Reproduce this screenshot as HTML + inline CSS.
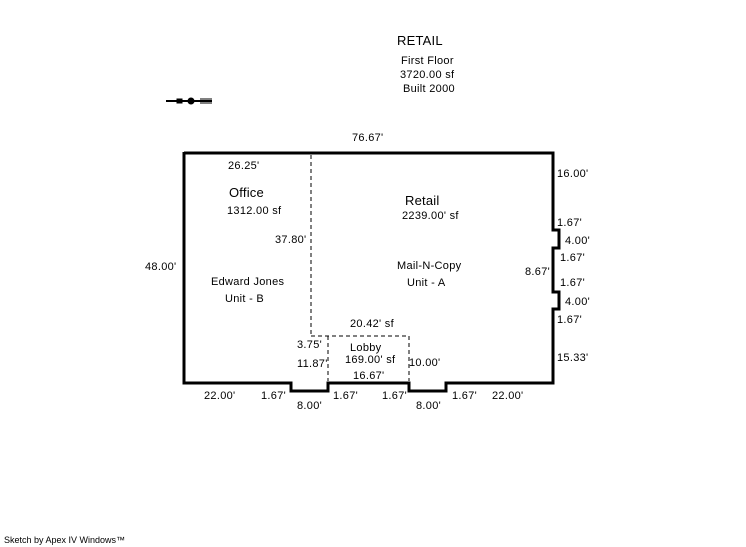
<!DOCTYPE html>
<html><head><style>
body{margin:0;width:746px;height:547px;background:#fff;position:relative;font-family:"Liberation Sans",Arial,sans-serif;overflow:hidden}
.t{position:absolute;font-size:11px;letter-spacing:0.3px;color:#000;white-space:nowrap;line-height:12px}
.b{font-size:13px;line-height:14px;letter-spacing:0.2px}
</style></head><body>
<svg width="746" height="547" style="position:absolute;left:0;top:0">
<polyline fill="none" stroke="#000" stroke-width="3" points="184,153 553,153 553,230 559,230 559,248 553,248 553,292 559,292 559,309 553,309 553,383 446,383 446,391 409,391 409,383 328,383 328,391 291,391 291,383 184,383 184,152"/>
<g stroke="#000" stroke-width="1" stroke-dasharray="4,3" fill="none">
<line x1="311" y1="155" x2="311" y2="336"/>
<line x1="311" y1="336" x2="409" y2="336"/>
<line x1="328" y1="336" x2="328" y2="381"/>
<line x1="409" y1="336" x2="409" y2="381"/>
</g>
<g stroke="#000" fill="#000">
<line x1="166" y1="101" x2="212" y2="101" stroke-width="2"/>
<circle cx="191" cy="101" r="3"/>
<rect x="177" y="99" width="5" height="4"/>
<line x1="200" y1="99" x2="212" y2="99" stroke-width="1"/>
<line x1="200" y1="103" x2="212" y2="103" stroke-width="1"/>
</g>
</svg>
<div class="t b" style="left:397px;top:34px">RETAIL</div>
<div class="t" style="left:401px;top:55px">First Floor</div>
<div class="t" style="left:400px;top:69px">3720.00 sf</div>
<div class="t" style="left:403px;top:83px">Built 2000</div>
<div class="t" style="left:352px;top:132px">76.67'</div>
<div class="t" style="left:228px;top:160px">26.25'</div>
<div class="t b" style="left:229px;top:186px">Office</div>
<div class="t" style="left:227px;top:205px">1312.00 sf</div>
<div class="t" style="left:275px;top:234px">37.80'</div>
<div class="t" style="left:145px;top:261px">48.00'</div>
<div class="t" style="left:211px;top:276px">Edward Jones</div>
<div class="t" style="left:225px;top:293px">Unit - B</div>
<div class="t b" style="left:405px;top:194px">Retail</div>
<div class="t" style="left:402px;top:210px">2239.00' sf</div>
<div class="t" style="left:397px;top:260px">Mail-N-Copy</div>
<div class="t" style="left:407px;top:277px">Unit - A</div>
<div class="t" style="left:525px;top:266px">8.67'</div>
<div class="t" style="left:557px;top:168px">16.00'</div>
<div class="t" style="left:557px;top:217px">1.67'</div>
<div class="t" style="left:565px;top:235px">4.00'</div>
<div class="t" style="left:560px;top:252px">1.67'</div>
<div class="t" style="left:560px;top:277px">1.67'</div>
<div class="t" style="left:565px;top:296px">4.00'</div>
<div class="t" style="left:557px;top:314px">1.67'</div>
<div class="t" style="left:557px;top:352px">15.33'</div>
<div class="t" style="left:350px;top:318px">20.42' sf</div>
<div class="t" style="left:297px;top:339px">3.75'</div>
<div class="t" style="left:297px;top:358px">11.87'</div>
<div class="t" style="left:350px;top:342px">Lobby</div>
<div class="t" style="left:345px;top:354px">169.00' sf</div>
<div class="t" style="left:409px;top:357px">10.00'</div>
<div class="t" style="left:353px;top:370px">16.67'</div>
<div class="t" style="left:204px;top:390px">22.00'</div>
<div class="t" style="left:261px;top:390px">1.67'</div>
<div class="t" style="left:297px;top:400px">8.00'</div>
<div class="t" style="left:333px;top:390px">1.67'</div>
<div class="t" style="left:382px;top:390px">1.67'</div>
<div class="t" style="left:416px;top:400px">8.00'</div>
<div class="t" style="left:452px;top:390px">1.67'</div>
<div class="t" style="left:492px;top:390px">22.00'</div>
<div class="t" style="left:4px;top:534px;font-size:9px;letter-spacing:0">Sketch by Apex IV Windows™</div>
</body></html>
